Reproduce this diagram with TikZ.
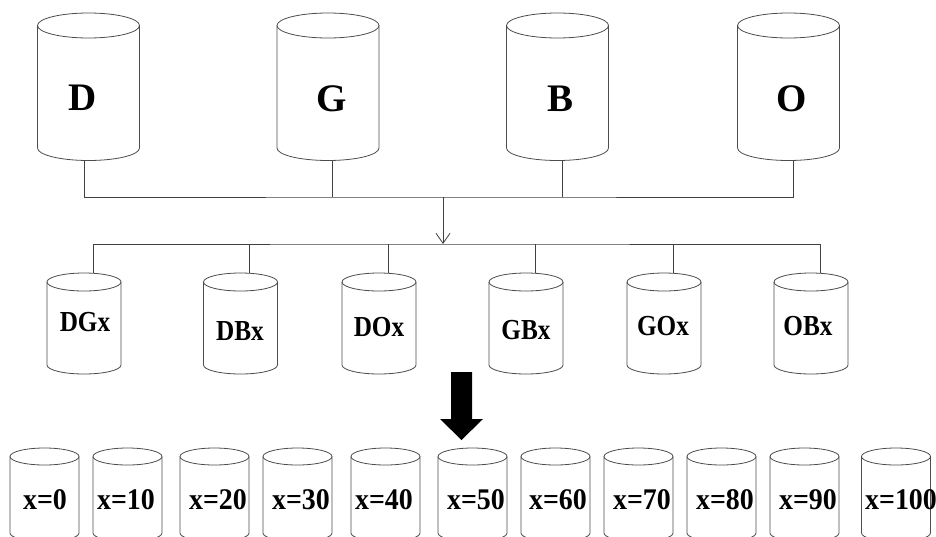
\documentclass[tikz,border=0pt]{standalone}
\usepackage{fontspec}
\setmainfont{Liberation Serif}
\newfontfamily\midfont[FakeStretch=0.87]{Liberation Serif}
\newfontfamily\binfont[FakeStretch=0.93]{Liberation Serif}
\usepackage{tikz}
\usetikzlibrary{arrows.meta}

\tikzset{
	dbline/.style={draw=black!70, line width=0.8pt},
	bus/.style={draw=black!75, line width=0.8pt},
	biglbl/.style={font=\fontsize{39}{39}\selectfont\bfseries, inner sep=0pt},
	midlbl/.style={font=\midfont\fontsize{29}{29}\selectfont\bfseries, inner sep=0pt},
	binlbl/.style={font=\binfont\fontsize{30}{30}\selectfont\bfseries, inner sep=0pt},
}

% #1 name, #2 centre x, #3 top y, #4 half width, #5 cap radius, #6 body height, #7 x of the wire
\newcommand{\dbcyl}[7]{%
	\draw[dbline] (#2-#4,#3+#5) -- ++(0,#6) arc[start angle=180, end angle=0, x radius=#4, y radius=#5] -- ++(0,-#6);
	\draw[dbline] (#2,#3+#5) ellipse [x radius=#4, y radius=#5];
	\coordinate (#1-n) at (#7,#3);
	\coordinate (#1-s) at (#7,#3+2*#5+#6);
}

\begin{document}
\begin{tikzpicture}[x=1pt, y=-1pt]
	\useasboundingbox (0,0) rectangle (936,536);

	% source tables
	\dbcyl{D}{88.5}{13}{51}{12.5}{122.5}{84}
	\dbcyl{G}{328}{13}{51}{12.5}{122.5}{332}
	\dbcyl{B}{557.5}{13}{51}{12.5}{122.5}{562}
	\dbcyl{O}{788.5}{13}{51}{12.5}{122.5}{793}
	\node[biglbl] (lD) at (83,98) {D};
	\node[biglbl] (lG) at (332,99) {G};
	\node[biglbl] (lB) at (560,99) {B};
	\node[biglbl] (lO) at (792,99) {O};

	\coordinate (bus1) at (443,197);
	\coordinate (bus2) at (443,244);
	\draw[bus] (D-s) |- (bus1) -| (O-s);
	\draw[bus] (G-s) -- (G-s |- bus1);
	\draw[bus] (B-s) -- (B-s |- bus1);
	\draw[bus, -{Straight Barb[length=10pt, width=14pt]}] (bus1) -- (bus2);

	% pair tables
	\dbcyl{DGx}{84}{273}{37}{9}{83}{93}
	\dbcyl{DBx}{240.5}{273}{37}{9}{83}{249}
	\dbcyl{DOx}{379}{273}{37}{9}{83}{388}
	\dbcyl{GBx}{526}{273}{37}{9}{83}{535}
	\dbcyl{GOx}{664}{273}{37}{9}{83}{673}
	\dbcyl{OBx}{811}{273}{37}{9}{83}{820}
	\node[midlbl] (lDGx) at (85,322) {DGx};
	\node[midlbl] (lDBx) at (240,331) {DBx};
	\node[midlbl] (lDOx) at (379,327) {DOx};
	\node[midlbl] (lGBx) at (526,330) {GBx};
	\node[midlbl] (lGOx) at (663,326) {GOx};
	\node[midlbl] (lOBx) at (808,326) {OBx};

	\draw[bus] (DGx-n) |- (bus2) -| (OBx-n);
	\draw[bus] (DBx-n) -- (DBx-n |- bus2);
	\draw[bus] (DOx-n) -- (DOx-n |- bus2);
	\draw[bus] (GBx-n) -- (GBx-n |- bus2);
	\draw[bus] (GOx-n) -- (GOx-n |- bus2);

	% big arrow
	\fill[black] (451,372) -- (472,372) -- (472,419) -- (483,419) -- (461.5,440)
		-- (440,419) -- (451,419) -- cycle;

	% bins
	\dbcyl{b0}{44.5}{448}{34.5}{8.5}{76.5}{44.5}
	\dbcyl{b10}{127.5}{448}{34.5}{8.5}{76.5}{127.5}
	\dbcyl{b20}{214.5}{448}{34.5}{8.5}{76.5}{214.5}
	\dbcyl{b30}{297.5}{448}{34.5}{8.5}{76.5}{297.5}
	\dbcyl{b40}{385.5}{448}{34.5}{8.5}{76.5}{385.5}
	\dbcyl{b50}{472.5}{448}{34.5}{8.5}{76.5}{472.5}
	\dbcyl{b60}{555.5}{448}{34.5}{8.5}{76.5}{555.5}
	\dbcyl{b70}{638.5}{448}{34.5}{8.5}{76.5}{638.5}
	\dbcyl{b80}{721.5}{448}{34.5}{8.5}{76.5}{721.5}
	\dbcyl{b90}{804.5}{448}{34.5}{8.5}{76.5}{804.5}
	\dbcyl{b100}{896}{448}{34.5}{8.5}{76.5}{896}
	\node[binlbl] (lb0) at (45,500) {x=0};
	\node[binlbl] (lb10) at (126,500) {x=10};
	\node[binlbl] (lb20) at (218,500) {x=20};
	\node[binlbl] (lb30) at (301,500) {x=30};
	\node[binlbl] (lb40) at (384,500) {x=40};
	\node[binlbl] (lb50) at (476,500) {x=50};
	\node[binlbl] (lb60) at (558,500) {x=60};
	\node[binlbl] (lb70) at (642,500) {x=70};
	\node[binlbl] (lb80) at (725,500) {x=80};
	\node[binlbl] (lb90) at (808,500) {x=90};
	\node[binlbl] (lb100) at (901,500) {x=100};
\end{tikzpicture}
\end{document}
